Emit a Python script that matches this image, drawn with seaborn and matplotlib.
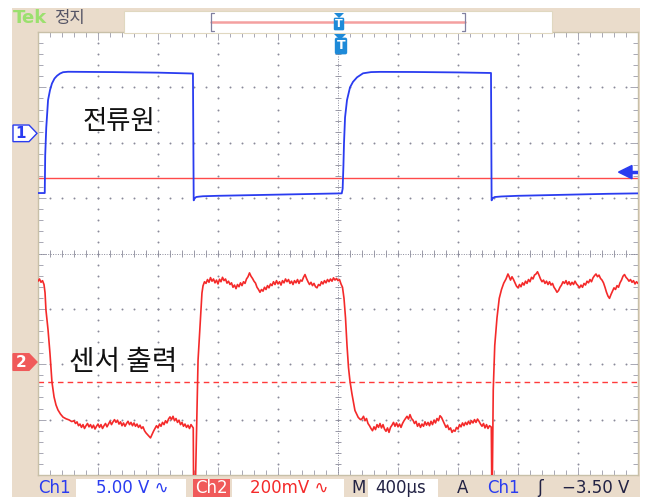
import numpy as np
import pandas as pd
import matplotlib
matplotlib.use("Agg")
import matplotlib.pyplot as plt
import matplotlib.transforms as mtransforms
from matplotlib.patches import Polygon, Rectangle
import seaborn as sns

W, H = 652, 497

# scope settings
T_DIV = 400          # us/div, trigger at centre
CH1_VDIV = 5.0       # V/div
CH2_VDIV = 200.0     # mV/div
CH1_POS = 2.17       # div, ground marker "1"
CH2_POS = -1.96      # div, ground marker "2"
CH1_REF_V = -4.0     # solid red line
CH2_REF_MV = -72     # dashed red line
TRIG_V = -3.50

# Ch1 : current source (V)
ch1_t = [-2000, -1955, -1952, -1945, -1933, -1920, -1907, -1890, -1873, -1853,
         -1833, -1800, -1500, -1200, -967, -962, -955, -945, -930, -900,
         -800, -500, -200, 25, 31, 36, 40, 47, 60, 80,
         100, 127, 167, 220, 280, 500, 800, 1020, 1024, 1032,
         1045, 1090, 1200, 1500, 1800, 2000]
ch1_v = [-5.39, -5.39, -2.0, 0.5, 3.0, 3.9, 4.5, 4.95, 5.2, 5.4,
         5.52, 5.56, 5.53, 5.48, 5.40, -6.05, -5.85, -5.75, -5.72, -5.68,
         -5.64, -5.56, -5.48, -5.42, -5.0, -3.0, -0.9, 1.44, 3.0, 4.15,
         4.65, 5.06, 5.42, 5.53, 5.55, 5.54, 5.50, 5.45, -6.05, -5.85,
         -5.75, -5.7, -5.64, -5.55, -5.46, -5.42]

# Ch2 : sensor output (mV), edges as (t, mV), plateaus sampled every 10 us
ch2_fall1_t = [-2000, -1990, -1980, -1970, -1960, -1953, -1947, -1933, -1920, -1907,
               -1893, -1880, -1867, -1850, -1833, -1813, -1793, -1775]
ch2_fall1_mv = [292, 300, 288, 294, 280, 250, 188, 116, 30, -72,
                -126, -155, -173, -188, -199, -205, -209, -215]

ch2_low1_start = -1760
ch2_low1_mv = [-212, -222, -216, -230, -224, -236, -226, -240, -230, -222,
               -234, -226, -238, -228, -242, -232, -224, -236, -226, -240,
               -230, -222, -234, -224, -214, -226, -216, -208, -218, -210,
               -224, -216, -230, -220, -232, -222, -214, -226, -218, -230,
               -220, -232, -224, -236, -228, -240, -234, -248, -256, -262,
               -268, -274, -262, -250, -240, -230, -238, -224, -232, -218,
               -226, -212, -220, -206, -198, -208, -196, -212, -204, -218,
               -210, -226, -218, -232, -224, -236, -228, -240, -226, -234]

ch2_rise1_t = [-965, -963, -950, -940, -933, -920, -907]
ch2_rise1_mv = [-238, -430, -430, -173, 7, 126, 249]

ch2_high1_start = -900
ch2_high1_mv = [275, 290, 284, 298, 288, 305, 292, 300, 286, 296,
                282, 299, 290, 306, 294, 300, 285, 292, 280, 286,
                270, 278, 265, 280, 272, 286, 276, 290, 284, 300,
                308, 322, 310, 302, 292, 285, 270, 262, 252, 262,
                256, 270, 262, 276, 268, 282, 276, 290, 280, 294,
                282, 290, 278, 294, 286, 300, 290, 298, 284, 292,
                280, 294, 286, 298, 284, 296, 292, 306, 316, 302,
                290, 280, 288, 276, 284, 272, 268, 280, 276, 290,
                282, 294, 286, 298, 290, 300, 292, 304, 296, 302,
                294, 298, 282]

ch2_fall2_t = [30, 40, 50, 60, 70, 80, 93, 113, 135, 150]
ch2_fall2_mv = [270, 230, 160, 60, -20, -70, -115, -175, -200, -208]

ch2_low2_start = 160
ch2_low2_mv = [-205, -196, -212, -204, -222, -230, -240, -248, -234, -244,
               -226, -236, -222, -238, -226, -242, -250, -238, -254, -236,
               -228, -218, -232, -220, -234, -224, -236, -222, -212, -204,
               -196, -206, -190, -204, -210, -222, -214, -232, -222, -236,
               -224, -232, -216, -228, -218, -230, -214, -226, -210, -220,
               -204, -212, -194, -200, -212, -224, -236, -228, -244, -238,
               -254, -246, -250, -236, -242, -226, -234, -220, -230, -218,
               -226, -214, -224, -212, -220, -208, -218, -206, -214, -224,
               -232, -222, -238, -226, -240, -230]

ch2_rise2_t = [1022, 1025, 1029, 1035, 1045, 1060, 1075, 1090, 1105, 1120, 1133]
ch2_rise2_mv = [-235, -430, -430, -100, 60, 160, 230, 262, 285, 300, 318]

ch2_high2_start = 1140
ch2_high2_mv = [310, 296, 308, 298, 286, 274, 268, 280, 272, 286,
                278, 292, 284, 298, 290, 306, 300, 314, 318, 326,
                314, 300, 290, 296, 284, 292, 280, 290, 278, 284,
                270, 262, 252, 258, 270, 278, 290, 284, 294, 280,
                290, 278, 288, 280, 292, 282, 276, 268, 278, 270,
                284, 278, 292, 286, 298, 290, 304, 312, 318, 308,
                314, 302, 296, 286, 270, 252, 238, 230, 244, 256,
                268, 262, 276, 270, 286, 296, 310, 316, 306, 300,
                292, 298, 288, 294, 282, 290, 284]

ch1_label = "전류원"
ch2_label = "센서 출력"

TAN = "#eadccb"
BLUE = "#2a3cf0"
RED = "#f42a2a"
DOT = "#8a8a9a"


def plateau(start, values, step=10):
    return list(start + step * np.arange(len(values))), list(values)


def build_ch2():
    ts, ms = [], []
    pieces = [
        (ch2_fall1_t, ch2_fall1_mv),
        plateau(ch2_low1_start, ch2_low1_mv),
        (ch2_rise1_t, ch2_rise1_mv),
        plateau(ch2_high1_start, ch2_high1_mv),
        (ch2_fall2_t, ch2_fall2_mv),
        plateau(ch2_low2_start, ch2_low2_mv),
        (ch2_rise2_t, ch2_rise2_mv),
        plateau(ch2_high2_start, ch2_high2_mv),
    ]
    for t, m in pieces:
        ts += list(t)
        ms += list(m)
    df = pd.DataFrame({"t": ts, "mv": ms})
    df["div"] = CH2_POS + df["mv"] / CH2_VDIV
    return df


def fx(px):
    return px / W


def fy(py):
    return 1 - py / H


sns.set_style("white")
plt.rcParams["font.family"] = ["DejaVu Sans", "Noto Sans CJK KR"]
KR = ["Noto Sans CJK KR", "DejaVu Sans"]

fig = plt.figure(figsize=(W / 100, H / 100), dpi=100, facecolor="white")

# tan bezel
fig.patches.append(Rectangle((fx(12), 0), fx(640) - fx(12), fy(8), transform=fig.transFigure,
                             facecolor=TAN, edgecolor="none", zorder=-10))

ax = fig.add_axes([fx(38), fy(475), fx(638) - fx(38), fy(32) - fy(475)])
ax.set_zorder(1)
ax.set_facecolor("white")
ax.set_xlim(-5 * T_DIV, 5 * T_DIV)
ax.set_ylim(-4, 4)

# graticule dots
minor_t = np.arange(-5 * T_DIV, 5 * T_DIV + 1, T_DIV / 5)
minor_y = np.arange(-4, 4.01, 0.2)
for k in range(-4, 5):
    if k == 0:
        continue
    ax.scatter(np.full(len(minor_y), k * T_DIV), minor_y, s=2.0, color=DOT, lw=0, zorder=1)
for k in range(-3, 4):
    if k == 0:
        continue
    ax.scatter(minor_t, np.full(len(minor_t), k), s=2.0, color=DOT, lw=0, zorder=1)
# centre cross with small ticks
ax.axvline(0, color=DOT, lw=0.7, ls=(0, (1, 1.5)), zorder=1)
ax.axhline(0, color=DOT, lw=0.7, ls=(0, (1, 1.5)), zorder=1)
ax.hlines(minor_y, -22, 22, color=DOT, lw=0.6, zorder=1)
ax.vlines(minor_t, -0.06, 0.06, color=DOT, lw=0.6, zorder=1)

# border rulers
ax.set_xticks(np.arange(-5 * T_DIV, 5 * T_DIV + 1, T_DIV))
ax.set_yticks(range(-4, 5))
ax.set_xticks(minor_t, minor=True)
ax.set_yticks(minor_y, minor=True)
ax.tick_params(which="both", direction="in", top=True, right=True, bottom=True, left=True,
               labelbottom=False, labelleft=False, color="#9a9aa8", width=0.6)
ax.tick_params(which="major", length=6)
ax.tick_params(which="minor", length=3.5)
for s in ax.spines.values():
    s.set_color("#c8c0a8")
    s.set_linewidth(1.0)

# reference lines
ax.axhline(CH1_POS + CH1_REF_V / CH1_VDIV, color="#ff4a4a", lw=1.0, zorder=2)
ax.axhline(CH2_POS + CH2_REF_MV / CH2_VDIV, color="#ff3a3a", lw=1.0, ls=(0, (4, 3)), zorder=2)

# traces
ch1 = pd.DataFrame({"t": ch1_t, "v": ch1_v})
ch1["div"] = CH1_POS + ch1["v"] / CH1_VDIV
ch2 = build_ch2()
sns.lineplot(data=ch1, x="t", y="div", sort=False, estimator=None, color=BLUE, lw=1.3, ax=ax, zorder=3)
sns.lineplot(data=ch2, x="t", y="div", sort=False, estimator=None, color=RED, lw=1.2, ax=ax, zorder=3)
ax.set_xlabel("")
ax.set_ylabel("")

ax.text(-1460, CH1_POS + 0.22, ch1_label, family=KR, fontsize=19, color="#111111",
        ha="center", va="center", zorder=4)
ax.text(-1430, CH2_POS, ch2_label, family=KR, fontsize=20, color="#111111",
        ha="center", va="center", zorder=4)

# channel ground markers on the left bezel
blend = mtransforms.blended_transform_factory(fig.transFigure, ax.transData)
h = 0.15
for pos, face, edge, txtc, lab in [(CH1_POS, "white", BLUE, BLUE, "1"),
                                   (CH2_POS, "#f05a5a", "#f05a5a", "white", "2")]:
    pts = [(fx(13), pos + h), (fx(29), pos + h), (fx(37), pos),
           (fx(29), pos - h), (fx(13), pos - h)]
    fig.patches.append(Polygon(pts, closed=True, transform=blend, facecolor=face,
                               edgecolor=edge, lw=1.0, zorder=5))
    fig.text(fx(21), 0, lab, transform=blend, fontsize=11, fontweight="bold", color=txtc,
             ha="center", va="center", zorder=6).set_y(pos)

# trigger level arrow on the right
trig = CH1_POS + TRIG_V / CH1_VDIV
ax.add_patch(Polygon([(1960, trig + 0.12), (1870, trig), (1960, trig - 0.12)], closed=True,
                     facecolor=BLUE, edgecolor=BLUE, clip_on=False, zorder=5))
ax.plot([1960, 2000], [trig, trig], color=BLUE, lw=2.5, zorder=5)

# trigger position marker at the top centre
fig.patches.append(Polygon([(fx(334), fy(34)), (fx(346), fy(34)), (fx(340), fy(40))], closed=True,
                           transform=fig.transFigure, facecolor="#1e8ad8", edgecolor="none", zorder=6))
fig.text(fx(341), fy(46), "T", fontsize=9, fontweight="bold", color="white", ha="center", va="center",
         bbox=dict(boxstyle="round,pad=0.15", fc="#1e8ad8", ec="none"), zorder=6)

# top status bar
fig.text(fx(13), fy(18), "Tek", fontsize=13, color="#9be06e", fontweight="bold", va="center")
fig.text(fx(54), fy(18), "정지", family=KR, fontsize=12, color="#555566", va="center")
fig.patches.append(Rectangle((fx(124), fy(33)), fx(552) - fx(124), fy(11) - fy(33),
                             transform=fig.transFigure, facecolor="white", edgecolor="#e0d8c0",
                             lw=0.8, zorder=3))
fig.lines.append(plt.Line2D([fx(211), fx(465)], [fy(22), fy(22)], transform=fig.transFigure,
                            color="#f4a0a0", lw=1.8, zorder=4))
for xb, d in [(211, 1), (465, -1)]:
    fig.lines.append(plt.Line2D([fx(xb + 3 * d), fx(xb), fx(xb), fx(xb + 3 * d)],
                                [fy(13), fy(13), fy(31), fy(31)], transform=fig.transFigure,
                                color="#8080a0", lw=0.9, zorder=4))
fig.patches.append(Polygon([(fx(334), fy(13)), (fx(344), fy(13)), (fx(339), fy(18))], closed=True,
                           transform=fig.transFigure, facecolor="#1e8ad8", edgecolor="none", zorder=5))
fig.text(fx(339), fy(24), "T", fontsize=8, fontweight="bold", color="white", ha="center", va="center",
         bbox=dict(boxstyle="round,pad=0.12", fc="#1e8ad8", ec="none"), zorder=5)

# bottom status bar
ybar = 488
for x0, x1 in [(76, 186), (232, 344), (368, 438)]:
    fig.patches.append(Rectangle((fx(x0), fy(497)), fx(x1) - fx(x0), fy(479) - fy(497),
                                 transform=fig.transFigure, facecolor="white", edgecolor="none", zorder=3))
fig.patches.append(Rectangle((fx(193), fy(497)), fx(230) - fx(193), fy(479) - fy(497),
                             transform=fig.transFigure, facecolor="#f05a5a", edgecolor="none", zorder=3))
status = [
    (38, "Ch1", BLUE),
    (96, "5.00 V \u223f", BLUE),
    (195, "Ch2", "white"),
    (250, "200mV \u223f", RED),
    (351, "M", "#222244"),
    (375, "400\u00b5s", "#222244"),
    (457, "A", "#222244"),
    (487, "Ch1", BLUE),
    (537, "\u0283", "#222244"),
    (562, "\u22123.50 V", "#222244"),
]
for xp, s, c in status:
    fig.text(fx(xp), fy(ybar), s, fontsize=12, color=c, va="center", ha="left", zorder=4)

fig.savefig("out.png", dpi=100, facecolor=fig.get_facecolor())
